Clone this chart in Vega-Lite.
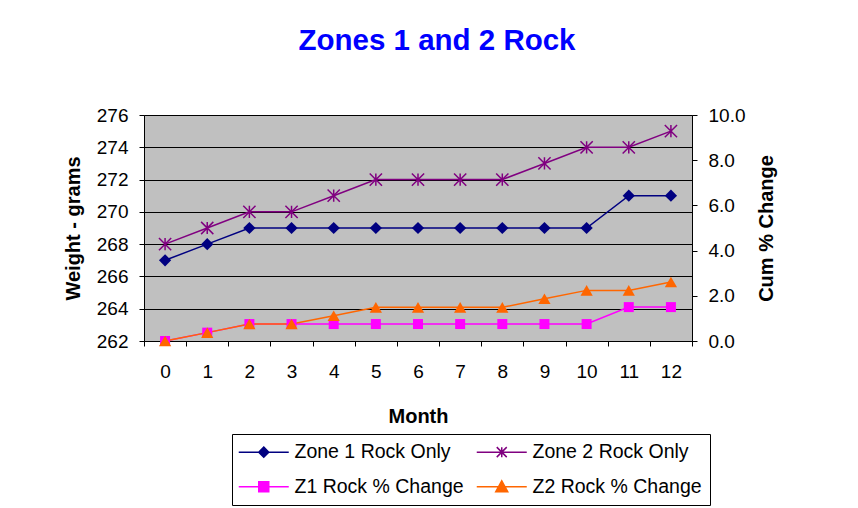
{
  "$schema": "https://vega.github.io/schema/vega-lite/v6.json",
  "width": 548,
  "height": 226,
  "autosize": {"type": "none"},
  "padding": {"left": 144, "top": 115, "right": 166, "bottom": 167},
  "background": "white",
  "title": {"text": "Zones 1 and 2 Rock", "fontSize": 29.5, "font": "Liberation Sans", "fontWeight": "bold", "color": "#0000FF", "anchor": "middle", "dx": 19, "offset": 50, "frame": "group"},
  "datasets": {
    "w": [
      {"month": 0, "series": "Zone 1 Rock Only", "value": 267},
      {"month": 1, "series": "Zone 1 Rock Only", "value": 268},
      {"month": 2, "series": "Zone 1 Rock Only", "value": 269},
      {"month": 3, "series": "Zone 1 Rock Only", "value": 269},
      {"month": 4, "series": "Zone 1 Rock Only", "value": 269},
      {"month": 5, "series": "Zone 1 Rock Only", "value": 269},
      {"month": 6, "series": "Zone 1 Rock Only", "value": 269},
      {"month": 7, "series": "Zone 1 Rock Only", "value": 269},
      {"month": 8, "series": "Zone 1 Rock Only", "value": 269},
      {"month": 9, "series": "Zone 1 Rock Only", "value": 269},
      {"month": 10, "series": "Zone 1 Rock Only", "value": 269},
      {"month": 11, "series": "Zone 1 Rock Only", "value": 271},
      {"month": 12, "series": "Zone 1 Rock Only", "value": 271},
      {"month": 0, "series": "Zone 2 Rock Only", "value": 268},
      {"month": 1, "series": "Zone 2 Rock Only", "value": 269},
      {"month": 2, "series": "Zone 2 Rock Only", "value": 270},
      {"month": 3, "series": "Zone 2 Rock Only", "value": 270},
      {"month": 4, "series": "Zone 2 Rock Only", "value": 271},
      {"month": 5, "series": "Zone 2 Rock Only", "value": 272},
      {"month": 6, "series": "Zone 2 Rock Only", "value": 272},
      {"month": 7, "series": "Zone 2 Rock Only", "value": 272},
      {"month": 8, "series": "Zone 2 Rock Only", "value": 272},
      {"month": 9, "series": "Zone 2 Rock Only", "value": 273},
      {"month": 10, "series": "Zone 2 Rock Only", "value": 274},
      {"month": 11, "series": "Zone 2 Rock Only", "value": 274},
      {"month": 12, "series": "Zone 2 Rock Only", "value": 275}
    ],
    "p": [
      {"month": 0, "series": "Z1 Rock % Change", "value": 0},
      {"month": 1, "series": "Z1 Rock % Change", "value": 0.37},
      {"month": 2, "series": "Z1 Rock % Change", "value": 0.75},
      {"month": 3, "series": "Z1 Rock % Change", "value": 0.75},
      {"month": 4, "series": "Z1 Rock % Change", "value": 0.75},
      {"month": 5, "series": "Z1 Rock % Change", "value": 0.75},
      {"month": 6, "series": "Z1 Rock % Change", "value": 0.75},
      {"month": 7, "series": "Z1 Rock % Change", "value": 0.75},
      {"month": 8, "series": "Z1 Rock % Change", "value": 0.75},
      {"month": 9, "series": "Z1 Rock % Change", "value": 0.75},
      {"month": 10, "series": "Z1 Rock % Change", "value": 0.75},
      {"month": 11, "series": "Z1 Rock % Change", "value": 1.5},
      {"month": 12, "series": "Z1 Rock % Change", "value": 1.5},
      {"month": 0, "series": "Z2 Rock % Change", "value": 0},
      {"month": 1, "series": "Z2 Rock % Change", "value": 0.37},
      {"month": 2, "series": "Z2 Rock % Change", "value": 0.75},
      {"month": 3, "series": "Z2 Rock % Change", "value": 0.75},
      {"month": 4, "series": "Z2 Rock % Change", "value": 1.12},
      {"month": 5, "series": "Z2 Rock % Change", "value": 1.49},
      {"month": 6, "series": "Z2 Rock % Change", "value": 1.49},
      {"month": 7, "series": "Z2 Rock % Change", "value": 1.49},
      {"month": 8, "series": "Z2 Rock % Change", "value": 1.49},
      {"month": 9, "series": "Z2 Rock % Change", "value": 1.87},
      {"month": 10, "series": "Z2 Rock % Change", "value": 2.24},
      {"month": 11, "series": "Z2 Rock % Change", "value": 2.24},
      {"month": 12, "series": "Z2 Rock % Change", "value": 2.61}
    ]
  },
  "encoding": {
    "x": {"field": "month", "type": "ordinal", "scale": {"type": "band", "paddingInner": 0, "paddingOuter": 0},
      "axis": {"title": "Month", "labelAngle": 0, "tickBand": "extent", "labelPadding": 16, "titlePadding": 25, "grid": false}},
    "color": {"field": "series", "type": "nominal",
      "scale": {"domain": ["Zone 1 Rock Only", "Z1 Rock % Change", "Zone 2 Rock Only", "Z2 Rock % Change"], "range": ["#000080", "#FF00FF", "#800080", "#FF6600"]},
      "legend": {"orient": "none", "legendX": 88, "legendY": 319, "columns": 2, "title": null,
        "strokeColor": "#000000", "fillColor": "#FFFFFF", "padding": 8, "cornerRadius": 0,
        "labelFont": "Liberation Sans", "labelFontSize": 19.5, "labelColor": "#000000", "labelLimit": 400,
        "symbolSize": 100, "symbolStrokeWidth": 1.5, "symbolOffset": 14, "labelOffset": 21,
        "columnPadding": 9, "rowPadding": 14,
        "encode": {"symbols": {"update": {
          "shape": {"signal": "datum.value === 'Zone 1 Rock Only' ? 'M-5,0H5M0,-1L1,0L0,1L-1,0Z' : datum.value === 'Zone 2 Rock Only' ? 'M-5,0H5M-1,-1L1,1M-1,1L1,-1M0,-1V1' : datum.value === 'Z1 Rock % Change' ? 'M-5,0H5M-1,-1H1V1H-1Z' : 'M-5,0H5M0,-1.2L1.2,1L-1.2,1Z'"},
          "fill": {"signal": "scale('color', datum.value)"},
          "stroke": {"signal": "scale('color', datum.value)"},
          "strokeWidth": {"value": 1.5}
        }}}}
    }
  },
  "layer": [
    {
      "data": {"name": "w"},
      "encoding": {
        "y": {"field": "value", "type": "quantitative", "scale": {"domain": [262, 276], "nice": false, "zero": false},
          "axis": {"title": "Weight - grams", "values": [262, 264, 266, 268, 270, 272, 274, 276], "grid": true, "labelPadding": 11, "titlePadding": 13}}
      },
      "layer": [
        {"mark": {"type": "line", "strokeWidth": 1.5}},
        {"transform": [{"filter": "datum.series === 'Zone 1 Rock Only'"}],
          "mark": {"type": "point", "shape": "diamond", "filled": true, "size": 150, "opacity": 1}},
        {"transform": [{"filter": "datum.series === 'Zone 2 Rock Only'"}],
          "mark": {"type": "point", "shape": "M-1,-1L1,1M-1,1L1,-1M0,-1V1", "filled": false, "size": 150, "opacity": 1, "strokeWidth": 1.5}}
      ]
    },
    {
      "data": {"name": "p"},
      "encoding": {
        "y": {"field": "value", "type": "quantitative", "scale": {"domain": [0, 10], "nice": false},
          "axis": {"orient": "right", "title": "Cum % Change", "values": [0, 2, 4, 6, 8, 10], "format": ".1f", "grid": false, "labelPadding": 11, "titlePadding": 32, "titleAngle": 270}}
      },
      "layer": [
        {"mark": {"type": "line", "strokeWidth": 1.5}},
        {"transform": [{"filter": "datum.series === 'Z1 Rock % Change'"}],
          "mark": {"type": "point", "shape": "square", "filled": true, "size": 100, "opacity": 1}},
        {"transform": [{"filter": "datum.series === 'Z2 Rock % Change'"}],
          "mark": {"type": "point", "shape": "triangle-up", "filled": true, "size": 150, "opacity": 1}}
      ]
    }
  ],
  "resolve": {"scale": {"y": "independent"}},
  "config": {
    "view": {"fill": "#C0C0C0", "stroke": "#808080"},
    "axis": {"labelFont": "Liberation Sans", "labelFontSize": 19, "labelColor": "#000000", "titleFont": "Liberation Sans", "titleFontSize": 20, "titleFontWeight": "bold", "titleColor": "#000000", "domainColor": "#000000", "tickColor": "#000000", "tickSize": 5, "gridColor": "#000000", "gridOpacity": 1, "gridWidth": 1}
  }
}
